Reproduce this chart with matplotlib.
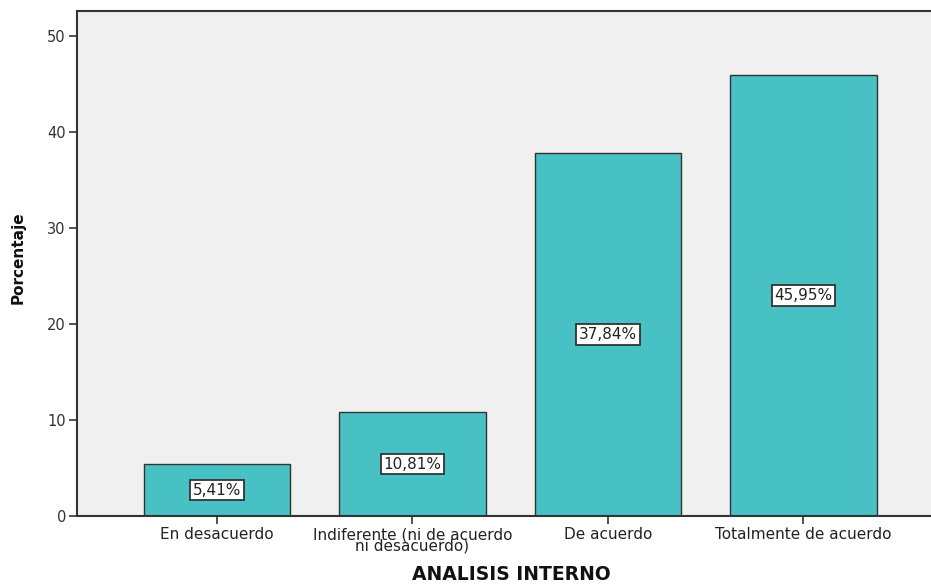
import matplotlib.pyplot as plt

# Survey answers for "ANALISIS INTERNO" (percentage of respondents)
categories = [
    "En desacuerdo",
    "Indiferente (ni de acuerdo\nni desacuerdo)",
    "De acuerdo",
    "Totalmente de acuerdo",
]
percentages = [5.41, 10.81, 37.84, 45.95]
value_labels = ["5,41%", "10,81%", "37,84%", "45,95%"]
y_ticks = [0, 10, 20, 30, 40, 50]

BAR_COLOR = "#47C1C3"
BG_COLOR = "#F0F0F0"
LINE_COLOR = "#333333"

plt.rcParams["font.family"] = ["DejaVu Sans"]

W, H = 931, 584
fig = plt.figure(figsize=(W / 100, H / 100), dpi=100)

# Axes box in pixels: left 77, top 11, bottom 516; right side runs off the figure
left, right, top, bottom = 77, 945, 11, 516
ax = fig.add_axes([left / W, 1 - bottom / H, (right - left) / W, (bottom - top) / H])
ax.set_facecolor(BG_COLOR)

x = list(range(len(categories)))
ax.bar(x, percentages, width=0.75, color=BAR_COLOR, edgecolor=LINE_COLOR, linewidth=1.0, zorder=2)

for xi, val, lab in zip(x, percentages, value_labels):
    ax.text(xi, val / 2, lab, ha="center", va="center", fontsize=11, color="#222222",
            bbox=dict(boxstyle="square,pad=0.18", facecolor="white", edgecolor=LINE_COLOR, linewidth=1.3),
            zorder=3)

spacing = 195.5
ax.set_xlim(-(217 - left) / spacing, (right - 217) / spacing)
ax.set_ylim(0, (bottom - top) / 9.6)

ax.set_xticks(x)
ax.set_xticklabels(categories, fontsize=11, color="#222222", linespacing=0.7)
ax.set_yticks(y_ticks)
ax.set_yticklabels([str(t) for t in y_ticks], fontsize=10.5, color="#333333")
ax.tick_params(axis="both", direction="out", length=6, width=1.2, color=LINE_COLOR, pad=2)

for side in ["left", "top", "bottom"]:
    ax.spines[side].set_color(LINE_COLOR)
    ax.spines[side].set_linewidth(1.5)
ax.spines["right"].set_visible(False)

fig.text(18 / W, 1 - 258 / H, "Porcentaje", rotation=90, ha="center", va="center",
         fontsize=11, fontweight="bold", color="#111111")
fig.text(511 / W, 1 - 575 / H, "ANALISIS INTERNO", ha="center", va="center",
         fontsize=13.5, fontweight="bold", color="#111111")

fig.savefig("out.png", dpi=100, facecolor="white")
